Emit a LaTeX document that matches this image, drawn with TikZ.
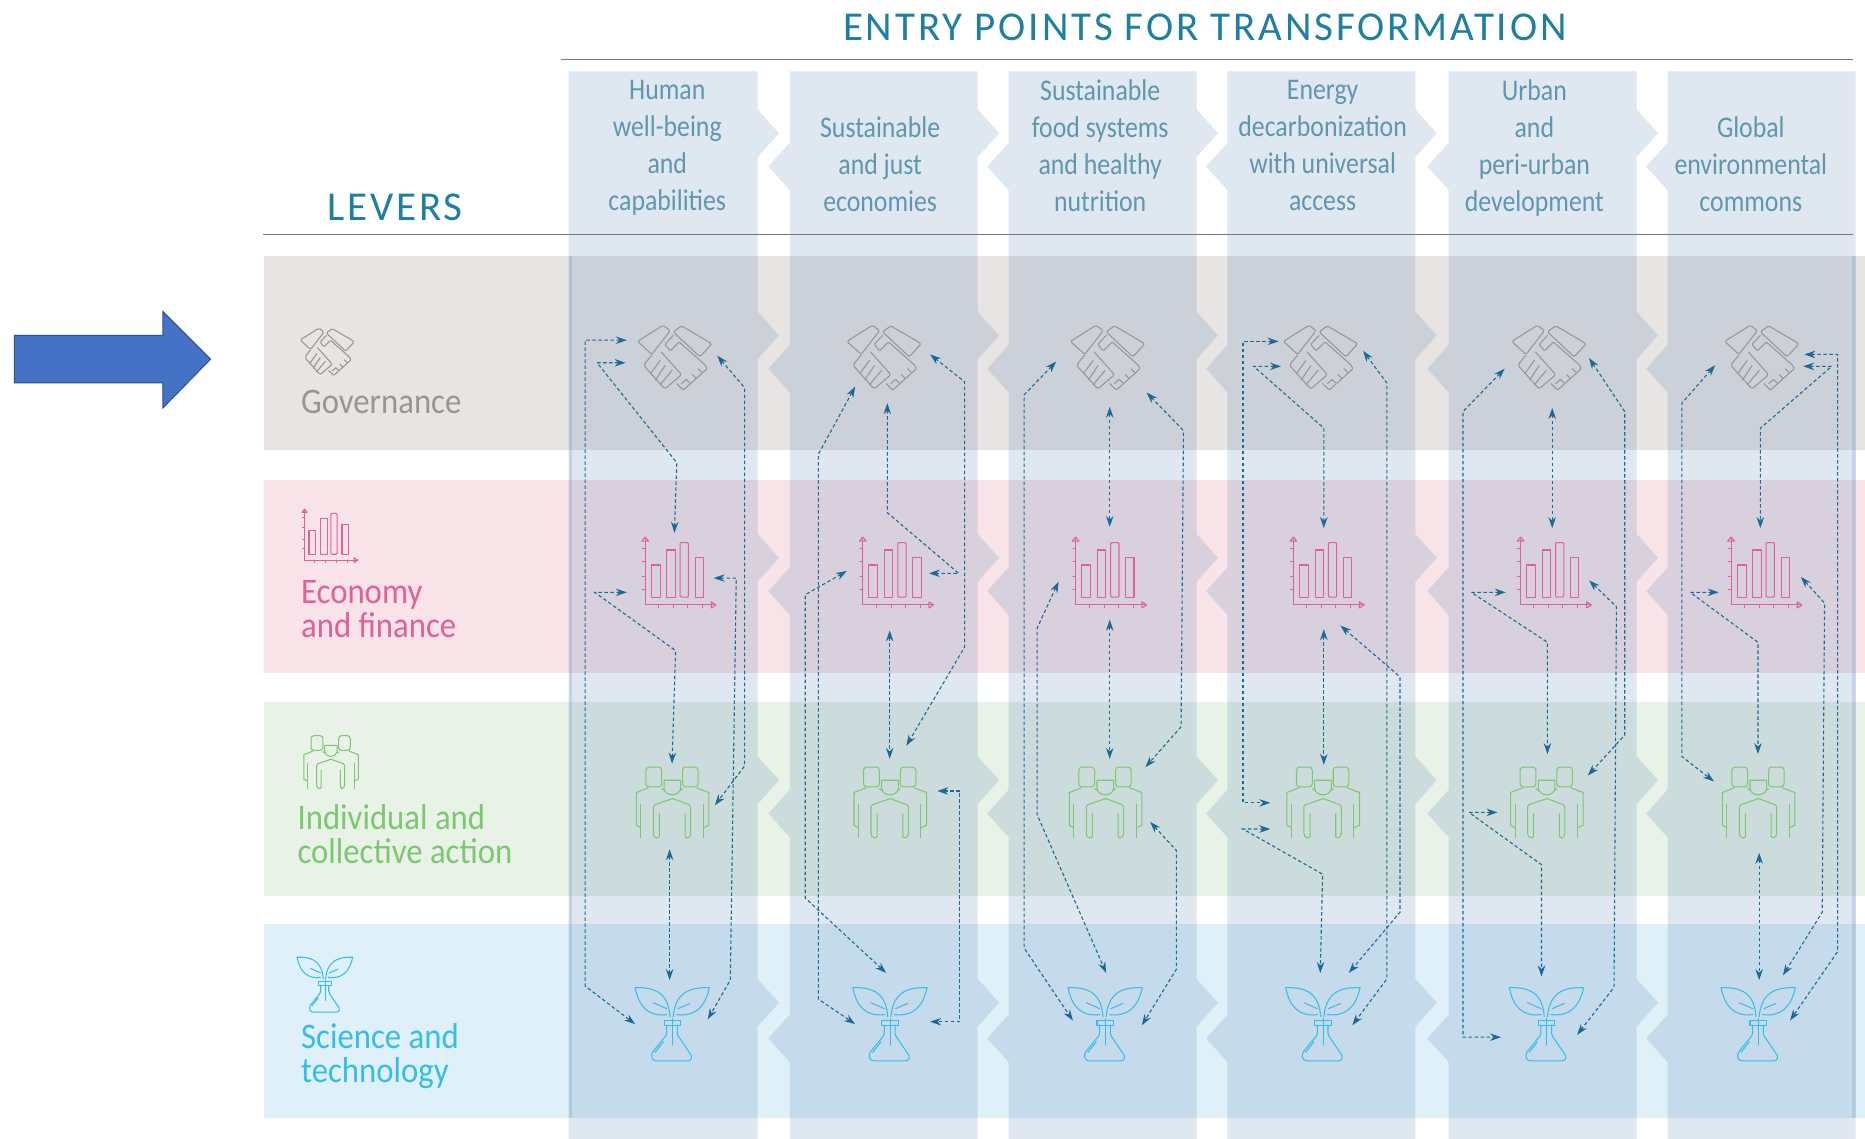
\documentclass[tikz,border=0pt]{standalone}
\usepackage{fontspec}
\usetikzlibrary{arrows.meta}
\setmainfont{Carlito}
\newfontfamily\headfont[LetterSpace=7]{Carlito}
\newfontfamily\collabfont[FakeStretch=0.86]{Carlito}
\newfontfamily\rowfont[FakeStretch=0.91]{Carlito}
\definecolor{govband}{HTML}{E8E4E3}
\definecolor{ecoband}{HTML}{F7E3E8}
\definecolor{indband}{HTML}{E8F2E6}
\definecolor{sciband}{HTML}{DFF0F9}
\definecolor{colshade}{HTML}{5F87B4}
\definecolor{govc}{HTML}{9A9492}
\definecolor{ecoc}{HTML}{E0609A}
\definecolor{indc}{HTML}{7CC870}
\definecolor{scic}{HTML}{35BDEA}
\definecolor{linkblue}{HTML}{1A6A96}
\definecolor{headc}{HTML}{1F7FA0}
\definecolor{collabc}{HTML}{5F97AE}
\definecolor{rulec}{HTML}{7D7470}
\definecolor{bluearrow}{HTML}{4472C4}
\definecolor{bluearrowline}{HTML}{2F528F}
\newcommand\Rside[1]{-- (#1,92) -- (#1+18,112) -- (#1,132) -- (#1,262) -- (#1+18,282) -- (#1,302) -- (#1,449) -- (#1+18,469) -- (#1,489) -- (#1,636) -- (#1+18,656) -- (#1,676) -- (#1,823) -- (#1+18,843) -- (#1,863)}
\newcommand\Lside[1]{-- (#1,893) -- (#1-18,873) -- (#1,853) -- (#1,704) -- (#1-18,684) -- (#1,664) -- (#1,517) -- (#1-18,497) -- (#1,477) -- (#1,330) -- (#1-18,310) -- (#1,290) -- (#1,160) -- (#1-18,140) -- (#1,120)}
\tikzset{
  band/.style={draw=none,anchor=north west,inner sep=0pt,minimum width=1346*1.1894pt,minimum height=163*1.1894pt},
  colshape/.style={fill=colshade,fill opacity=.2,draw=none},
  iconbox/.style={draw=none,inner sep=0pt,minimum width=60pt,minimum height=60pt},
  iconline/.style={line width=1.05pt,line join=round,line cap=round,fill=none},
  link/.style={draw=linkblue,line width=1.1pt,dash pattern=on 3.5pt off 2.5pt,>={Stealth[length=11pt,width=7.5pt]},<->},
  rulel/.style={draw=rulec,line width=1.5pt},
  collab/.style={align=center,text=collabc,font=\collabfont\fontsize{30}{37}\selectfont,inner sep=0pt},
  rowlab/.style={align=left,anchor=west,inner sep=0pt,font=\rowfont\fontsize{36}{34}\selectfont},
  head/.style={text=headc,inner sep=0pt},
  handshake/.pic={
    \draw[pic actions,iconline,rounded corners=1.5] (-31,-14)--(-9.5,-27.5)--(-3.5,-23)--(-19,-3)--cycle;
    \draw[pic actions,iconline,rounded corners=1.5] (6,-27)--(31.5,-12)--(21.5,-1)--(-1,-22)--cycle;
    \draw[pic actions,iconline,rounded corners=1] (-1,-19)--(-8,-11.5)--(-3.5,-6)--(4,-13.5)--(26,6)--(27.5,9)--(7.5,27)--(2,21.5);
    \draw[pic actions,iconline,rounded corners=2] (-19,-2.5)--(-26,6)--(-8,26)--(6,14)--(-11,-5);
    \draw[pic actions,iconline] (-20,13)--(-12,2) (-16,18.5)--(-8,6.5) (-12,22.5)--(-2,10.5);
    \draw[pic actions,iconline] (6,21.5)--(10,18) (10,18)--(13,21) (15,14)--(18,17) (20,9)--(23,12);
  },
  barchart/.pic={
    \draw[pic actions,iconline] (-26.6,-29)--(-26.6,26.6)--(32,26.6);
    \draw[pic actions,iconline] (-29.5,-27)--(-26.6,-30.5)--(-23.7,-27)--cycle;
    \draw[pic actions,iconline] (29,24)--(33,26.6)--(29,29.2)--cycle;
    \draw[pic actions,iconline] (-29,-21)--(-26.6,-21) (-29,-10)--(-26.6,-10) (-29,3)--(-26.6,3) (-29,14)--(-26.6,14);
    \draw[pic actions,iconline] (-15.4,26.6)--(-15.4,29) (-2.8,26.6)--(-2.8,29) (9,26.6)--(9,29) (21.6,26.6)--(21.6,29);
    \draw[pic actions,iconline] (-21.6,20)--(-21.6,-7)--(-14,-7)--(-14,20)--cycle;
    \draw[pic actions,iconline] (-8.4,20)--(-8.4,-19.6)--(-1.4,-19.6)--(-1.4,20)--cycle;
    \draw[pic actions,iconline,rounded corners=1] (2.8,20)--(2.8,-25.8)--(9.8,-25.8)--(9.8,20)--cycle;
    \draw[pic actions,iconline] (15.4,20)--(15.4,-13.4)--(22.4,-13.4)--(22.4,20)--cycle;
  },
  groupicon/.pic={
    \draw[pic actions,iconline,rounded corners=3] (-22,-30) rectangle (-8.7,-13.5);
    \draw[pic actions,iconline,rounded corners=3] (8.9,-30) rectangle (22,-13.5);
    \draw[pic actions,iconline] (-6.7,-19)--(7.3,-19)--(7.3,-12) .. controls (6,-5) and (-5.5,-5) .. (-6.7,-12)--cycle;
    \draw[pic actions,iconline] (-20,-12.6)--(-30,-8.7)--(-30,18.8)--(-26.2,21);
    \draw[pic actions,iconline] (-26.2,1)--(-26.2,29.4);
    \draw[pic actions,iconline] (20.7,-12.6)--(31,-8.7)--(31,18.8)--(26.2,21);
    \draw[pic actions,iconline] (26.2,1)--(26.2,29.4);
    \draw[pic actions,iconline] (-8.7,-12)--(-6.7,-10.5) (8.9,-12)--(7.3,-10.5);
    \draw[pic actions,iconline,rounded corners=1.5] (0.5,-3.6)--(-15.7,2)--(-15.7,27)--(-14,29.4)--(-10.6,29.4)--(-10.6,9);
    \draw[pic actions,iconline,rounded corners=1.5] (0.5,-3.6)--(15.7,2)--(15.7,27)--(14,29.4)--(11,29.4)--(11,9);
  },
  flaskplant/.pic={
    \draw[pic actions,iconline] (-31,-29.6) .. controls (-18,-30) and (-3,-28) .. (-1.7,-5.2);
    \draw[pic actions,iconline] (-31,-29.6) .. controls (-28,-14) and (-20,-5) .. (-4.5,-7);
    \draw[pic actions,iconline] (31.4,-29.6) .. controls (18,-30) and (3,-28) .. (1,-5.2);
    \draw[pic actions,iconline] (31.4,-29.6) .. controls (28,-14) and (20,-5) .. (3.8,-7);
    \draw[pic actions,iconline] (-15.7,-17)--(-4.5,-12) (15,-16.3)--(5,-12);
    \draw[pic actions,iconline] (-6.7,-2.4) rectangle (7.3,1.8);
    \draw[pic actions,iconline,rounded corners=1.5] (-4.5,1.8)--(-4.5,10)--(-17,25.3)--(-17,30)--(-14.3,32)--(15,32)--(17,28.5)--(4.5,10)--(4.5,1.8);
    \draw[pic actions,iconline] (0.5,-3.8)--(0.5,18.6);
    \draw[pic actions,iconline] (-14.3,24.8)--(-7.3,15.8);
  },
}
\begin{document}
\begin{tikzpicture}[x=1.1894pt,y=-1.1894pt]
\useasboundingbox (0,0) rectangle (1568,957.6);
\fill[white] (0,0) rectangle (1568,957.6);
% bands
\node[band,fill=govband] (bandgov) at (222,215) {};
\node[band,fill=ecoband] (bandeco) at (222,403) {};
\node[band,fill=indband] (bandind) at (222,590) {};
\node[band,fill=sciband] (bandsci) at (222,777) {};
% columns
\fill[colshape] (478,60) -- (637,60) \Rside{637} -- (637,958) -- (478,958) -- cycle;
\fill[colshape] (664,60) -- (822,60) \Rside{822} -- (822,958) -- (664,958) \Lside{664} -- cycle;
\fill[colshape] (848,60) -- (1006,60) \Rside{1006} -- (1006,958) -- (848,958) \Lside{848} -- cycle;
\fill[colshape] (1032,60) -- (1190,60) \Rside{1190} -- (1190,958) -- (1032,958) \Lside{1032} -- cycle;
\fill[colshape] (1218,60) -- (1376,60) \Rside{1376} -- (1376,958) -- (1218,958) \Lside{1218} -- cycle;
\fill[colshape] (1402,60) -- (1560,60) -- (1560,958) -- (1402,958) \Lside{1402} -- cycle;
\fill[colshape] (478,215) rectangle (481,940);
\fill[colshape] (1557,215) rectangle (1560,940);
% rules
\coordinate (r1a) at (472,50); \coordinate (r1b) at (1558,50);
\coordinate (r2a) at (221,197); \coordinate (r2b) at (1558,197);
\draw[rulel] (r1a) -- (r1b);
\draw[rulel] (r2a) -- (r2b);
% headings
\node[head,font=\headfont\fontsize{41}{41}\selectfont] (title) at (1013,23) {ENTRY POINTS FOR TRANSFORMATION};
\node[head,font=\headfont\fontsize{41}{41}\selectfont] (levers) at (332,174) {LEVERS};
% column labels
\node[collab,anchor=north] (t1) at (561,67) {Human\\well-being\\and\\capabilities};
\node[collab,anchor=north] (t2) at (740,98) {Sustainable\\and just\\economies};
\node[collab,anchor=north] (t3) at (925,67) {Sustainable\\food systems\\and healthy\\nutrition};
\node[collab,anchor=north] (t4) at (1112,67) {Energy\\decarbonization\\with universal\\access};
\node[collab,anchor=north] (t5) at (1290,67) {Urban\\and\\peri-urban\\development};
\node[collab,anchor=north] (t6) at (1472,98) {Global\\environmental\\commons};
% row labels
\node[rowlab,text=govc] (lgov) at (253,338) {Governance};
\node[rowlab,text=ecoc] (leco) at (253,512) {Economy\\and finance};
\node[rowlab,text=indc] (lind) at (250,701) {Individual and\\collective action};
\node[rowlab,text=scic] (lsci) at (253,888) {Science and\\technology};
% row icons
\pic[draw=govc,scale=.73] at (275,296) {handshake};
\pic[draw=ecoc,scale=.75] at (276,451) {barchart};
\pic[draw=indc,scale=.75] at (278,641) {groupicon};
\pic[draw=scic,scale=.75] at (273,827) {flaskplant};
% icon nodes
\node[iconbox] (g1) at (567,301) {}; \node[iconbox] (e1) at (569,482) {}; \node[iconbox] (p1) at (565,675) {}; \node[iconbox] (s1) at (565,860) {};
\node[iconbox] (g2) at (743,301) {}; \node[iconbox] (e2) at (752,482) {}; \node[iconbox] (p2) at (748,675) {}; \node[iconbox] (s2) at (748,860) {};
\node[iconbox] (g3) at (931,301) {}; \node[iconbox] (e3) at (931,482) {}; \node[iconbox] (p3) at (929,675) {}; \node[iconbox] (s3) at (929,860) {};
\node[iconbox] (g4) at (1110,301) {}; \node[iconbox] (e4) at (1114,482) {}; \node[iconbox] (p4) at (1112,675) {}; \node[iconbox] (s4) at (1112,860) {};
\node[iconbox] (g5) at (1302,301) {}; \node[iconbox] (e5) at (1305,482) {}; \node[iconbox] (p5) at (1300,675) {}; \node[iconbox] (s5) at (1300,860) {};
\node[iconbox] (g6) at (1481,301) {}; \node[iconbox] (e6) at (1482,482) {}; \node[iconbox] (p6) at (1478,675) {}; \node[iconbox] (s6) at (1478,860) {};
\foreach \i in {1,...,6} {
  \pic[draw=govc] at (g\i) {handshake};
  \pic[draw=ecoc] at (e\i) {barchart};
  \pic[draw=indc] at (p\i) {groupicon};
  \pic[draw=scic] at (s\i) {flaskplant};
}
% connectors column 1
\draw[link] ([shift={(-40,-15)}]g1.center) -- (492,286) -- (492,829) -- ([shift={(-31,1)}]s1.center);
\draw[link] ([shift={(-41,4)}]g1.center) -- (502,305) -- (569,389) -- ([shift={(-2,-34)}]e1.center);
\draw[link] ([shift={(36,-2)}]g1.center) -- (626,326) -- (626,644) -- ([shift={(36,2)}]p1.center);
\draw[link] ([shift={(31,4)}]e1.center) -- (619,486) -- (614,824) -- ([shift={(30,-3)}]s1.center);
\draw[link] ([shift={(-42,16)}]e1.center) -- (500,498) -- (568,547) -- ([shift={(0,-33)}]p1.center);
\draw[link] ([shift={(-2,39)}]p1.center) -- ([shift={(-2,-36)}]s1.center);
% connectors column 2
\draw[link] ([shift={(-24,24)}]g2.center) -- (688,382) -- (688,840) -- ([shift={(-29,1)}]s2.center);
\draw[link] ([shift={(-40,-2)}]e2.center) -- (677,500) -- (677,755) -- ([shift={(-3,-42)}]s2.center);
\draw[link] ([shift={(3,38)}]g2.center) -- (746,431) -- (806,482) -- ([shift={(29,0)}]e2.center);
\draw[link] ([shift={(39,-3)}]g2.center) -- (811,321) -- (811,544) -- ([shift={(14,-48)}]p2.center);
\draw[link] ([shift={(-4,48)}]e2.center) -- ([shift={(0,-37)}]p2.center);
\draw[link] ([shift={(40,-10)}]p2.center) -- (807,665) -- (807,859) -- ([shift={(34,-1)}]s2.center);
% connectors column 3
\draw[link] ([shift={(-43,3)}]g3.center) -- (861,332) -- (861,797) -- ([shift={(-27,-2)}]s3.center);
\draw[link] ([shift={(2,41)}]g3.center) -- ([shift={(2,-39)}]e3.center);
\draw[link] ([shift={(33,29)}]g3.center) -- (995,362) -- (993,611) -- ([shift={(34,-30)}]p3.center);
\draw[link] ([shift={(-41,7)}]e3.center) -- (872,528) -- (872,685) -- ([shift={(1,-42)}]s3.center);
\draw[link] ([shift={(2,39)}]e3.center) -- ([shift={(4,-37)}]p3.center);
\draw[link] ([shift={(38,16)}]p3.center) -- (989,715) -- (989,815) -- ([shift={(31,2)}]s3.center);
% connectors column 4
\draw[link] ([shift={(-35,-14)}]g4.center) -- (1045,287) -- (1045,675) -- ([shift={(-44,0)}]p4.center);
\draw[link] ([shift={(-33,7)}]g4.center) -- (1054,308) -- (1113,360) -- ([shift={(-1,-38)}]e4.center);
\draw[link] ([shift={(36,-6)}]g4.center) -- (1166,322) -- (1166,823) -- ([shift={(25,2)}]s4.center);
\draw[link] ([shift={(13,44)}]e4.center) -- (1177,569) -- (1177,767) -- ([shift={(22,-42)}]s4.center);
\draw[link] ([shift={(-1,47)}]e4.center) -- ([shift={(1,-32)}]p4.center);
\draw[link] ([shift={(-44,22)}]p4.center) -- (1045,697) -- (1112,735) -- ([shift={(-2,-42)}]s4.center);
% connectors column 5
\draw[link] ([shift={(-37,9)}]g5.center) -- (1230,346) -- (1230,872) -- ([shift={(-38,12)}]s5.center);
\draw[link] ([shift={(3,42)}]g5.center) -- ([shift={(0,-38)}]e5.center);
\draw[link] ([shift={(34,0)}]g5.center) -- (1366,346) -- (1366,618) -- ([shift={(35,-23)}]p5.center);
\draw[link] ([shift={(31,6)}]e5.center) -- (1359,510) -- (1357,830) -- ([shift={(26,10)}]s5.center);
\draw[link] ([shift={(-39,16)}]e5.center) -- (1237,498) -- (1301,540) -- ([shift={(1,-41)}]p5.center);
\draw[link] ([shift={(-41,8)}]p5.center) -- (1235,683) -- (1296,727) -- ([shift={(-4,-39)}]s5.center);
% connectors column 6
\draw[link] ([shift={(-39,6)}]g6.center) -- (1414,339) -- (1414,636) -- ([shift={(-37,-18)}]p6.center);
\draw[link] ([shift={(36,-3)}]g6.center) -- (1545,298) -- (1545,800) -- ([shift={(27,-2)}]s6.center);
\draw[link] ([shift={(35,7)}]g6.center) -- (1540,308) -- (1480,360) -- ([shift={(-2,-38)}]e6.center);
\draw[link] ([shift={(-37,16)}]e6.center) -- (1421,498) -- (1478,540) -- ([shift={(0,-41)}]p6.center);
\draw[link] ([shift={(32,3)}]e6.center) -- (1534,507) -- (1532,767) -- ([shift={(21,-40)}]s6.center);
\draw[link] ([shift={(1,42)}]p6.center) -- ([shift={(1,-36)}]s6.center);
% arrow at left
\filldraw[fill=bluearrow,draw=bluearrowline,line width=1pt] (12,282) -- (137,282) -- (137,262) -- (177,302) -- (137,343) -- (137,322) -- (12,322) -- cycle;
\end{tikzpicture}
\end{document}
